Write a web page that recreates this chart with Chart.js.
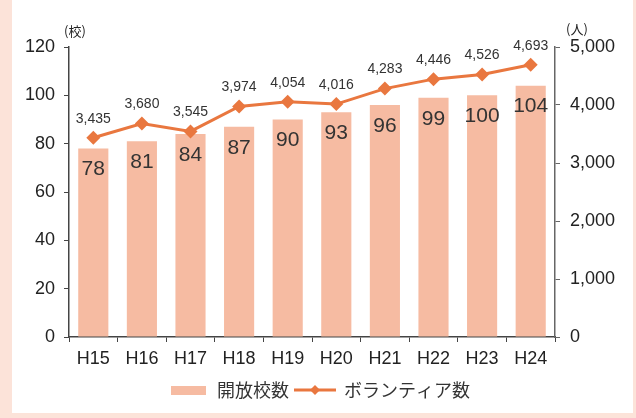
<!DOCTYPE html>
<html>
<head>
<meta charset="utf-8">
<script src="https://cdn.jsdelivr.net/npm/chart.js@4"></script>
<style>
  html, body { margin: 0; padding: 0; background: #fce3d9; }
  #frame { position: absolute; left: 12px; top: 0; width: 621px; height: 413px; background: #fff; }
  #wrap { position: absolute; left: 0; top: 0; width: 636px; height: 418px; }
</style>
</head>
<body>
<div id="frame"></div>
<div id="wrap"><canvas id="chart"></canvas></div>
<script>
const years = ['H15', 'H16', 'H17', 'H18', 'H19', 'H20', 'H21', 'H22', 'H23', 'H24'];
const schools = [78, 81, 84, 87, 90, 93, 96, 99, 100, 104];
const volunteers = [3435, 3680, 3545, 3974, 4054, 4016, 4283, 4446, 4526, 4693];
const leftTicks = [0, 20, 40, 60, 80, 100, 120];
const rightTicks = [0, 1000, 2000, 3000, 4000, 5000];

const barColor = '#f6bba2';
const lineColor = '#e9773f';
const latin = '"Liberation Sans", Arial, sans-serif';
const jp = '"Noto Sans CJK JP", sans-serif';

// legend icons
const makeIcon = (type) => {
    const c = document.createElement('canvas');
    c.width = 42; c.height = 12;
    const g = c.getContext('2d');
    if (type === 'bar') {
        g.fillStyle = barColor;
        g.fillRect(4, 2, 35, 9);
    } else {
        g.strokeStyle = lineColor;
        g.lineWidth = 3;
        g.beginPath(); g.moveTo(0, 6); g.lineTo(42, 6); g.stroke();
        g.fillStyle = lineColor;
        g.beginPath(); g.moveTo(21, 1); g.lineTo(26, 6); g.lineTo(21, 11); g.lineTo(16, 6); g.closePath(); g.fill();
    }
    return c;
};

const fmt = (v) => v.toLocaleString('en-US');

const labelPlugin = {
    id: 'labels',
    afterDatasetsDraw(chart) {
        const ctx = chart.ctx;
        ctx.save();
        ctx.textAlign = 'center';
        ctx.textBaseline = 'middle';
        ctx.fillStyle = '#333';
        ctx.font = '21px ' + latin;
        chart.getDatasetMeta(1).data.forEach((el, i) => {
            ctx.fillText(String(schools[i]), el.x, el.y + 21);
        });
        ctx.font = '14px ' + latin;
        chart.getDatasetMeta(0).data.forEach((el, i) => {
            ctx.fillText(fmt(volunteers[i]), el.x, el.y - 19);
        });
        // unit labels
        const a = chart.chartArea;
        ctx.font = '13px ' + jp;
        ctx.fillStyle = '#222';
        ctx.fillText('(校)', a.left + 6, a.top - 16);
        ctx.fillText('(人)', a.right + 22, a.top - 18);
        ctx.restore();
    }
};

const ctx = document.getElementById('chart').getContext('2d');
new Chart(ctx, {
    data: {
        labels: years,
        datasets: [
            {
                type: 'line',
                label: 'ボランティア数',
                data: volunteers,
                yAxisID: 'y1',
                borderColor: lineColor,
                backgroundColor: lineColor,
                borderWidth: 3,
                pointStyle: 'rectRot',
                pointRadius: 7,
                pointHoverRadius: 7,
                pointBackgroundColor: lineColor,
                pointBorderWidth: 0,
                tension: 0,
                order: 0
            },
            {
                type: 'bar',
                label: '開放校数',
                data: schools,
                yAxisID: 'y',
                backgroundColor: barColor,
                barPercentage: 0.62,
                categoryPercentage: 1,
                order: 1
            }
        ]
    },
    options: {
        responsive: true,
        maintainAspectRatio: false,
        animation: false,
        layout: { padding: { left: 12, right: 10, top: 47, bottom: 9 } },
        plugins: {
            tooltip: { enabled: false },
            legend: {
                position: 'bottom',
                reverse: true,
                labels: {
                    usePointStyle: true,
                    pointStyleWidth: 40,
                    boxHeight: 12,
                    padding: 6,
                    color: '#333',
                    font: { family: jp, size: 18 },
                    generateLabels(chart) {
                        return chart.data.datasets.map((ds, i) => ({
                            text: ds.label,
                            pointStyle: makeIcon(ds.type),
                            fillStyle: 'transparent',
                            strokeStyle: 'transparent',
                            lineWidth: 0,
                            datasetIndex: i,
                            fontColor: '#333'
                        }));
                    }
                }
            }
        },
        scales: {
            x: {
                offset: true,
                afterFit: (s) => { s.height = 38; },
                grid: { offset: true, drawOnChartArea: false, drawTicks: true, tickLength: 5, color: '#444' },
                border: { color: '#444', width: 1.5 },
                ticks: { color: '#222', font: { family: latin, size: 18 }, padding: 6 }
            },
            y: {
                position: 'left',
                min: 0, max: 120,
                afterBuildTicks: (s) => { s.ticks = leftTicks.map(v => ({ value: v })); },
                afterFit: (s) => { s.width = 57; },
                grid: { drawOnChartArea: false, tickLength: 5, color: '#444' },
                border: { color: '#444', width: 1.5 },
                ticks: { color: '#222', font: { family: latin, size: 18 }, padding: 9 }
            },
            y1: {
                position: 'right',
                min: 0, max: 5000,
                afterBuildTicks: (s) => { s.ticks = rightTicks.map(v => ({ value: v })); },
                afterFit: (s) => { s.width = 71; },
                grid: { drawOnChartArea: false, tickLength: 5, color: '#666' },
                border: { color: '#666', width: 1.5 },
                ticks: { color: '#222', font: { family: latin, size: 18 }, padding: 10, callback: (v) => fmt(v) }
            }
        }
    },
    plugins: [labelPlugin]
});
</script>
</body>
</html>
